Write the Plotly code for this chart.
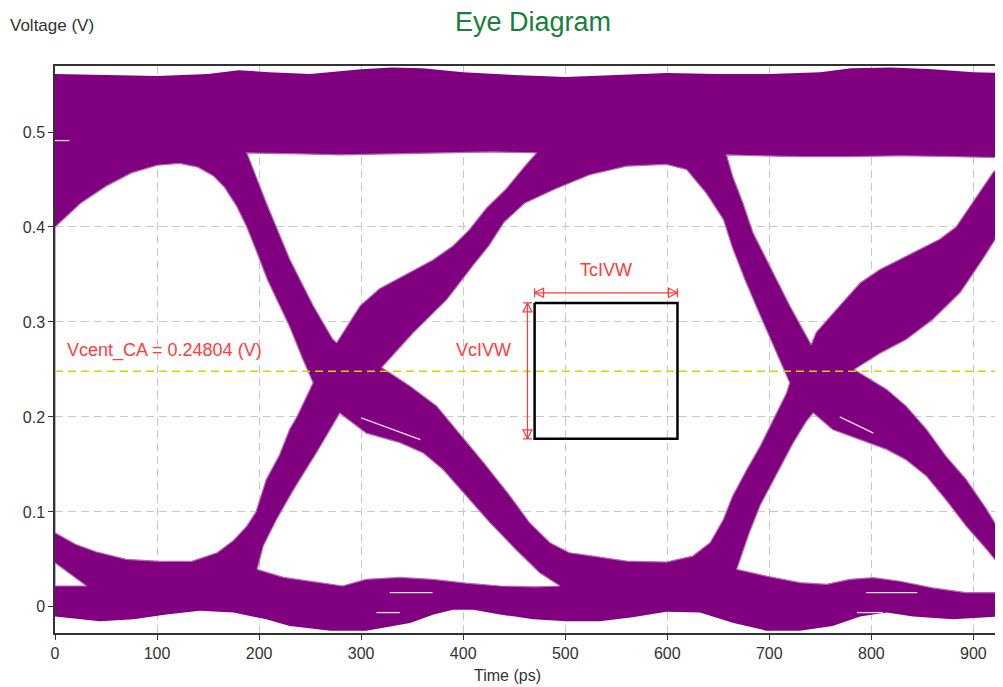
import plotly.graph_objects as go

# ---------------- data (time in ps, voltage in V) ----------------
# outer envelope of the eye (top edge left->right, bottom edge right->left)
top_t = [0, 50, 100, 150, 180, 210, 250, 300, 330, 360, 400, 450, 500, 550, 600, 650, 700, 750, 780, 820, 860, 900, 929]
top_v = [0.561, 0.560, 0.559, 0.561, 0.565, 0.563, 0.561, 0.566, 0.568, 0.567, 0.563, 0.560, 0.558, 0.560, 0.562, 0.561,
         0.561, 0.563, 0.567, 0.568, 0.566, 0.563, 0.562]
bot_t = [929, 880, 841, 815, 789, 762, 730, 697, 665, 632, 599, 566, 534, 501, 469, 436, 410, 390, 371, 348, 305, 270,
         230, 207, 175, 142, 109, 77, 44, 0]
bot_v = [-0.010, -0.013, -0.010, -0.006, -0.010, -0.020, -0.025, -0.025, -0.017, -0.006, -0.005, -0.011, -0.015, -0.015,
         -0.013, -0.008, -0.003, -0.003, -0.008, -0.017, -0.025, -0.025, -0.020, -0.013, -0.006, -0.004, -0.008, -0.013,
         -0.015, -0.010]

# white openings inside the eye pattern
hole_a_t = [0, 20, 40, 70, 103, 134, 159, 175, 188, 197, 207, 220, 230, 237, 253, 243, 230, 220, 208, 198, 188, 178, 166,
            155, 140, 122, 100, 75, 50, 25, 0]
hole_a_v = [0.078, 0.066, 0.058, 0.050, 0.048, 0.048, 0.057, 0.070, 0.085, 0.100, 0.134, 0.160, 0.187, 0.200, 0.236,
            0.2605, 0.295, 0.317, 0.345, 0.373, 0.400, 0.422, 0.442, 0.454, 0.463, 0.467, 0.465, 0.457, 0.443, 0.425, 0.400]

hole_t1_t = [276, 299, 318, 345, 370, 390, 406, 423, 442, 462, 472, 430, 380, 330, 280, 240, 188, 207, 230, 253, 272]
hole_t1_v = [0.278, 0.317, 0.335, 0.351, 0.365, 0.380, 0.397, 0.420, 0.440, 0.466, 0.478, 0.479, 0.478, 0.477, 0.476,
             0.477, 0.478, 0.4255, 0.366, 0.317, 0.282]

hole_b1_t = [198, 224, 256, 282, 305, 338, 370, 403, 436, 470, 495, 475, 452, 426, 403, 380, 361, 338, 305, 279, 256,
             234, 217, 204]
hole_b1_v = [0.0395, 0.031, 0.026, 0.022, 0.029, 0.031, 0.029, 0.025, 0.022, 0.021, 0.022, 0.036, 0.060, 0.089, 0.117,
             0.145, 0.162, 0.173, 0.183, 0.204, 0.162, 0.124, 0.092, 0.064]

hole_c_t = [320, 348, 374, 393, 420, 446, 465, 485, 504, 527, 560, 599, 625, 642, 655, 664, 678, 691, 704, 717, 720,
            710, 698, 687, 676, 664, 655, 638, 619, 599, 560, 524, 490, 460, 440, 425, 410, 384, 351]
hole_c_v = [0.252, 0.2324, 0.2114, 0.1868, 0.1518, 0.1166, 0.0886, 0.0676, 0.057, 0.0535, 0.0482, 0.0472, 0.0535,
            0.0676, 0.092, 0.1166, 0.1447, 0.169, 0.197, 0.2255, 0.236, 0.260, 0.290, 0.317, 0.345, 0.378, 0.408,
            0.436, 0.4605, 0.466, 0.464, 0.455, 0.440, 0.425, 0.405, 0.380, 0.360, 0.3237, 0.2886]

hole_t2_t = [741, 746, 769, 789, 808, 834, 867, 883, 903, 919, 929, 929, 880, 830, 780, 730, 690, 658, 664, 674, 684,
             697, 720, 739]
hole_t2_v = [0.276, 0.289, 0.317, 0.341, 0.355, 0.369, 0.387, 0.400, 0.432, 0.457, 0.468, 0.473, 0.474, 0.475, 0.474,
             0.474, 0.475, 0.476, 0.4535, 0.4255, 0.394, 0.366, 0.317, 0.280]

hole_b2_t = [668, 697, 730, 756, 779, 802, 828, 860, 893, 929, 929, 913, 893, 873, 854, 834, 815, 789, 762, 743, 736,
             723, 708, 691, 680]
hole_b2_v = [0.0395, 0.0324, 0.0255, 0.0237, 0.029, 0.0307, 0.027, 0.020, 0.015, 0.015, 0.0395, 0.0605, 0.085, 0.113,
             0.1377, 0.155, 0.1658, 0.1763, 0.1868, 0.2044, 0.195, 0.172, 0.142, 0.107, 0.077]

hole_c2_t = [783, 815, 834, 854, 873, 893, 913, 929, 929, 909, 887, 860, 834, 810]
hole_c2_v = [0.250, 0.229, 0.2114, 0.1868, 0.1588, 0.134, 0.1026, 0.0745, 0.400, 0.366, 0.331, 0.3026, 0.2816, 0.268]

hole_s_t = [0, 31, 0]
hole_s_v = [0.022, 0.022, 0.0465]

# short white streaks seen inside the bands (None separates streaks)
streak_t = [300, 358, None, 769, 802, None, 328, 370, None, 315, 338, None, 795, 845, None, 786, 811, None, 0, 14]
streak_v = [0.199, 0.176, None, 0.200, 0.183, None, 0.015, 0.015, None, -0.006, -0.006, None, 0.015, 0.015, None,
            -0.006, -0.006, None, 0.491, 0.491]

# reference level and mask
vcent = 0.24804
mask_t = [470, 610]          # TcIVW window (ps)
mask_v = [0.177, 0.320]      # VcIVW window (V)
tc_arrow_v = 0.3307
vc_arrow_t = 463

x_ticks = [0, 100, 200, 300, 400, 500, 600, 700, 800, 900]
y_ticks = [0, 0.1, 0.2, 0.3, 0.4, 0.5]
y_tick_text = ["0", "0.1", "0.2", "0.3", "0.4", "0.5"]
x_range = [0, 929]
y_range = [-0.0275, 0.5695]

PURPLE = "#800080"
EDGE = "#b26ab2"
RED = "#ff3b3b"
FONT = "Liberation Sans, Arial, sans-serif"

holes = [(hole_a_t, hole_a_v), (hole_t1_t, hole_t1_v), (hole_b1_t, hole_b1_v), (hole_c_t, hole_c_v),
         (hole_t2_t, hole_t2_v), (hole_b2_t, hole_b2_v), (hole_c2_t, hole_c2_v), (hole_s_t, hole_s_v)]

# ---------------- build figure ----------------
xs, ys = list(top_t) + list(bot_t), list(top_v) + list(bot_v)
for ht, hv in holes:
    xs += [None] + list(ht)
    ys += [None] + list(hv)

fig = go.Figure()
fig.add_trace(go.Scatter(x=xs, y=ys, mode="lines", fill="toself", fillcolor=PURPLE,
                         line=dict(width=0, color=PURPLE), hoverinfo="skip", connectgaps=False))

# soft light edge around each opening
ex, ey = [], []
for ht, hv in holes:
    ex += list(ht) + [ht[0], None]
    ey += list(hv) + [hv[0], None]
fig.add_trace(go.Scatter(x=ex, y=ey, mode="lines", line=dict(color=EDGE, width=1.2), hoverinfo="skip",
                         connectgaps=False))

# texture streaks
fig.add_trace(go.Scatter(x=streak_t, y=streak_v, mode="lines", connectgaps=False,
                         line=dict(color="#f0e0f0", width=1.3), hoverinfo="skip"))

# Vcent line
fig.add_trace(go.Scatter(x=x_range, y=[vcent, vcent], mode="lines",
                         line=dict(color="#d4d400", width=1.5, dash="8px,5px"), hoverinfo="skip"))

# mask box
fig.add_trace(go.Scatter(x=[mask_t[0], mask_t[1], mask_t[1], mask_t[0], mask_t[0]],
                         y=[mask_v[1], mask_v[1], mask_v[0], mask_v[0], mask_v[1]],
                         mode="lines", line=dict(color="black", width=2.5), hoverinfo="skip"))

# dimension arrows
fig.add_trace(go.Scatter(x=mask_t, y=[tc_arrow_v, tc_arrow_v], mode="lines+markers",
                         line=dict(color=RED, width=1.2),
                         marker=dict(symbol=["arrow-bar-left-open", "arrow-bar-right-open"], size=9, color=RED,
                                     line=dict(color=RED, width=1.2)), hoverinfo="skip"))
fig.add_trace(go.Scatter(x=[vc_arrow_t, vc_arrow_t], y=mask_v, mode="lines+markers",
                         line=dict(color=RED, width=1.2),
                         marker=dict(symbol=["arrow-bar-down-open", "arrow-bar-up-open"], size=9, color=RED,
                                     line=dict(color=RED, width=1.2)), hoverinfo="skip"))

axis_font = dict(family=FONT, size=16, color="#333333")
fig.update_xaxes(range=x_range, tickvals=x_ticks, showgrid=True, gridcolor="#c8c8c8", griddash="8px,5px",
                 gridwidth=1, showline=True, linecolor="#333333", linewidth=1.5, mirror=True, ticks="outside",
                 ticklen=5, tickcolor="#333333", zeroline=False, tickfont=axis_font)
fig.update_yaxes(range=y_range, tickvals=y_ticks, ticktext=y_tick_text, showgrid=True, gridcolor="#c8c8c8",
                 griddash="8px,5px", gridwidth=1, showline=True, linecolor="#333333", linewidth=1.5,
                 ticks="outside", ticklen=5, tickcolor="#333333", zeroline=False, tickfont=axis_font)

# the page body adds an 8px offset, so the figure margins are shifted by that amount
fig.update_layout(
    width=1003, height=687, margin=dict(l=47, r=8, t=58, b=62, autoexpand=False),
    plot_bgcolor="white", paper_bgcolor="white", showlegend=False,
    title=dict(text="Eye Diagram", x=0.5234, xanchor="center", y=0.9796, yanchor="middle",
               font=dict(family=FONT, size=27, color="#17803d")),
    annotations=[
        dict(text="Voltage (V)", xref="paper", yref="paper", x=-0.0496, y=1.0723, xanchor="left",
             yanchor="middle", showarrow=False, font=dict(family=FONT, size=17, color="#333333")),
        dict(text="Time (ps)", xref="paper", yref="paper", x=0.4768, y=-0.0758, xanchor="center",
             yanchor="middle", showarrow=False, font=dict(family=FONT, size=16, color="#333333")),
        dict(text="Vcent_CA = 0.24804 (V)", x=9.8, y=0.2704, xanchor="left", yanchor="middle", showarrow=False,
             font=dict(family=FONT, size=18, color=RED)),
        dict(text="VcIVW", x=420, y=0.271, xanchor="center", yanchor="middle", showarrow=False,
             font=dict(family=FONT, size=18, color=RED)),
        dict(text="TcIVW", x=540, y=0.3546, xanchor="center", yanchor="middle", showarrow=False,
             font=dict(family=FONT, size=18, color=RED)),
    ],
)

fig.write_html("out.html")
